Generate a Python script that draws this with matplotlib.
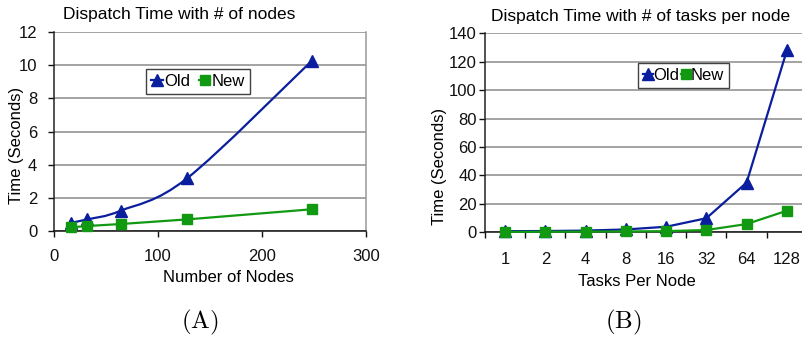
import matplotlib
matplotlib.use("Agg")
import matplotlib.pyplot as plt
from matplotlib.path import Path
from matplotlib.patches import PathPatch
from matplotlib.lines import Line2D
import numpy as np

plt.rcParams['font.family'] = ['Liberation Sans', 'DejaVu Sans']
plt.rcParams['mathtext.fontset'] = 'cm'

# Panel A: dispatch time vs number of nodes
nodes = [16, 32, 64, 128, 248]
old_nodes = [0.5, 0.7, 1.22, 3.18, 10.27]
new_nodes = [0.22, 0.3, 0.42, 0.7, 1.31]

# Panel B: dispatch time vs tasks per node
tasks = ["1", "2", "4", "8", "16", "32", "64", "128"]
old_tasks = [0.8, 0.9, 1.2, 2.0, 3.9, 9.9, 35.0, 128.0]
new_tasks = [0.3, 0.4, 0.5, 0.6, 0.8, 1.6, 5.8, 15.2]

BLUE = "#0A1E9E"
GREEN = "#119A11"
GRID = "#8a8a8a"
FS = 12
FS_TITLE = 12.5
W, H = 803, 337


def smooth_path(xs, ys):
    """Bezier path through the points, Excel-style smoothed line."""
    pts = np.column_stack([xs, ys]).astype(float)
    n = len(pts)
    verts = [pts[0]]
    codes = [Path.MOVETO]
    for i in range(n - 1):
        p0 = pts[i - 1] if i > 0 else pts[i]
        p1 = pts[i]
        p2 = pts[i + 1]
        p3 = pts[i + 2] if i + 2 < n else pts[i + 1]
        c1 = p1 + (p2 - p0) / 6.0
        c2 = p2 - (p3 - p1) / 6.0
        verts += [c1, c2, p2]
        codes += [Path.CURVE4] * 3
    return Path(verts, codes)


def style_axes(ax):
    ax.grid(axis='y', color=GRID, linewidth=1.1)
    ax.set_axisbelow(True)
    ax.spines['top'].set_visible(False)
    ax.spines['left'].set_color('#222222')
    ax.spines['bottom'].set_color('#111111')
    ax.spines['right'].set_color('#999999')
    for s in ax.spines.values():
        s.set_linewidth(1.1)
    ax.tick_params(axis='both', direction='out', length=4, width=1,
                   labelsize=FS, colors='#111111', labelcolor='#111111')
    ax.set_facecolor('white')


def place_labels(ax, xl, yl):
    """Put axis labels at pixel positions (x, y measured from top-left)."""
    inv = ax.transAxes.inverted()
    fx, fy = inv.transform(fig.transFigure.transform((xl[0] / W, 1 - xl[1] / H)))
    ax.xaxis.set_label_coords(fx, fy)
    ax.xaxis.label.set_va('center')
    gx, gy = inv.transform(fig.transFigure.transform((yl[0] / W, 1 - yl[1] / H)))
    ax.yaxis.set_label_coords(gx, gy)
    ax.yaxis.label.set_va('center')


fig = plt.figure(figsize=(W / 100, H / 100), dpi=100)

# ---------------- Panel A ----------------
axA = fig.add_axes([54 / W, 106 / H, 312 / W, 199 / H])
style_axes(axA)
axA.set_xlim(0, 300)
axA.set_ylim(0, 12)
axA.set_xticks([0, 100, 200, 300])
axA.set_yticks(range(0, 13, 2))
axA.tick_params(axis='x', pad=9)
axA.tick_params(axis='y', pad=8)
axA.add_patch(PathPatch(smooth_path(nodes, old_nodes), facecolor='none',
                        edgecolor=BLUE, linewidth=1.6, zorder=3))
axA.plot(nodes, old_nodes, linestyle='none', marker='^', markersize=9,
         color=BLUE, zorder=4, clip_on=False)
axA.plot(nodes, new_nodes, color=GREEN, linewidth=1.6, marker='s',
         markersize=7.5, zorder=5, clip_on=False)
fig.text(63 / W, 1 - 14 / H, "Dispatch Time with # of nodes",
         fontsize=FS_TITLE, ha='left', va='center')
axA.set_xlabel("Number of Nodes", fontsize=FS)
axA.set_ylabel("Time (Seconds)", fontsize=FS)
place_labels(axA, (228, 277), (17, 145))

handles = [Line2D([], [], color=BLUE, marker='^', markersize=8, linewidth=1.6),
           Line2D([], [], color=GREEN, marker='s', markersize=7, linewidth=1.6)]
legA = axA.legend(handles, ["Old", "New"], loc='upper left',
                  bbox_to_anchor=((146 - 54) / 312, (231 - 69) / 199),
                  ncol=2, fontsize=FS, frameon=True, fancybox=False,
                  handlelength=0.7, handletextpad=0.1, columnspacing=0.5,
                  borderpad=0.3, borderaxespad=0)
legA.get_frame().set_edgecolor('#111111')
legA.get_frame().set_linewidth(1.0)

fig.text(200 / W, 1 - 322 / H, r"$\mathrm{(A)}$", fontsize=18,
         ha='center', va='center')

# ---------------- Panel B ----------------
xpos = np.arange(len(tasks))
axB = fig.add_axes([485 / W, 104.7 / H, 322 / W, 199 / H])
style_axes(axB)
axB.spines['right'].set_visible(False)
axB.set_xlim(-0.5, len(tasks) - 0.5)
axB.set_ylim(0, 140)
axB.set_yticks(range(0, 141, 20))
axB.set_xticks(xpos)
axB.set_xticklabels(tasks)
axB.set_xticks(np.arange(-0.5, len(tasks), 1.0), minor=True)
axB.tick_params(axis='x', which='major', length=0, pad=14)
axB.tick_params(axis='x', which='minor', direction='out', length=4, width=1,
                color='#111111')
axB.tick_params(axis='y', pad=2)
axB.plot(xpos, old_tasks, color=BLUE, linewidth=1.6, marker='^',
         markersize=9, zorder=4, clip_on=False)
axB.plot(xpos, new_tasks, color=GREEN, linewidth=1.6, marker='s',
         markersize=7.5, zorder=5, clip_on=False)
fig.text(491 / W, 1 - 16 / H, "Dispatch Time with # of tasks per node",
         fontsize=FS_TITLE, ha='left', va='center')
axB.set_xlabel("Tasks Per Node", fontsize=FS)
axB.set_ylabel("Time (Seconds)", fontsize=FS)
place_labels(axB, (637, 281.5), (440, 166))

handlesB = [Line2D([], [], color=BLUE, marker='^', markersize=8, linewidth=1.6),
            Line2D([], [], color=GREEN, marker='s', markersize=7, linewidth=1.6)]
legB = axB.legend(handlesB, ["Old", "New"], loc='upper left',
                  bbox_to_anchor=((638 - 485) / 322, (232.3 - 63) / 199),
                  ncol=2, fontsize=FS, frameon=True, fancybox=False,
                  handlelength=0.6, handletextpad=0.0, columnspacing=0.1,
                  borderpad=0.3, borderaxespad=0)
legB.get_frame().set_edgecolor('#111111')
legB.get_frame().set_linewidth(1.0)

fig.text(623 / W, 1 - 322 / H, r"$\mathrm{(B)}$", fontsize=18,
         ha='center', va='center')

fig.savefig("out.png", dpi=100, facecolor='white')
